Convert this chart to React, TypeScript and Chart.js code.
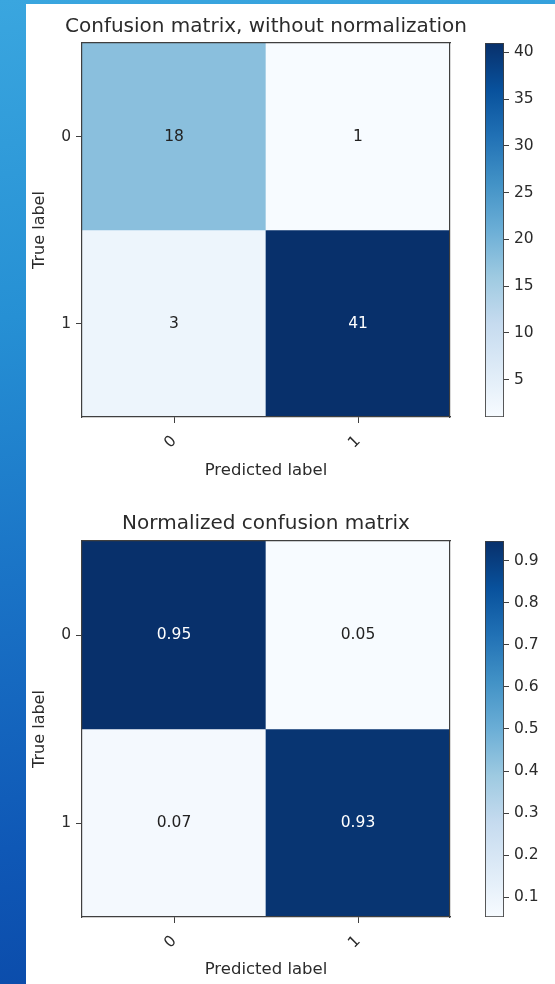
import React, { useEffect, useRef } from 'react';
import { Chart, registerables } from 'chart.js';

Chart.register(...registerables);

// ---------------- data ----------------
const classLabels = ['0', '1'];
const countRow0 = [18, 1];
const countRow1 = [3, 41];
const countMatrix = [countRow0, countRow1];
const countTicks = [5, 10, 15, 20, 25, 30, 35, 40];
const normTicks = [0.1, 0.2, 0.3, 0.4, 0.5, 0.6, 0.7, 0.8, 0.9];
const chartTitles = ['Confusion matrix, without normalization', 'Normalized confusion matrix'];
const xAxisTitle = 'Predicted label';
const yAxisTitle = 'True label';

// normalized matrix: each row divided by its row total
const normMatrix = countMatrix.map((row) => {
  const s = row.reduce((a, b) => a + b, 0);
  return row.map((v) => v / s);
});

// ---------------- style ----------------
const FONT = '"DejaVu Sans", "Noto Sans", sans-serif';
const TEXT = '#2b2b2b';
const AXIS = '#3f3f3f';
const BLUES = ['#f7fbff', '#deebf7', '#c6dbef', '#9ecae1', '#6baed6', '#4292c6', '#2171b5', '#08519c', '#08306b'];
const TITLE_SIZE = 20;
const TITLE_LH = TITLE_SIZE * 1.2;

function hexToRgb(h: string) {
  const n = parseInt(h.slice(1), 16);
  return [(n >> 16) & 255, (n >> 8) & 255, n & 255];
}
function blues(t: number) {
  const tt = Math.max(0, Math.min(1, t));
  const s = tt * 8;
  const i = Math.min(7, Math.floor(s));
  const f = s - i;
  const a = hexToRgb(BLUES[i]);
  const b = hexToRgb(BLUES[i + 1]);
  const c = a.map((v, k) => Math.round(v + (b[k] - v) * f));
  return `rgb(${c[0]},${c[1]},${c[2]})`;
}

type Geo = {
  top: number;
  height: number;
  areaTop: number;
  areaBottom: number;
  titlePadTop: number;
  xTitlePadBottom: number;
};

const MAT_W = 480;
const AREA_LEFT = 56;
const AREA_RIGHT = 424;
const CB_W = 79;

function MatrixChart({ values, fmt, title, geo }: { values: number[][]; fmt: (v: number) => string; title: string; geo: Geo }) {
  const ref = useRef<HTMLCanvasElement | null>(null);
  useEffect(() => {
    if (!ref.current) return;
    const flat = values.flat();
    const vmin = Math.min(...flat);
    const vmax = Math.max(...flat);
    const thresh = vmax / 2;
    const datasets = values.map((row, r) => ({
      data: row.map(() => [r, r + 1]),
      backgroundColor: row.map((v) => blues((v - vmin) / (vmax - vmin))),
      borderWidth: 0,
      barPercentage: 1,
      categoryPercentage: 1,
      grouped: false,
    }));
    const cellLabels = {
      id: 'cellLabels',
      afterDatasetsDraw(chart: any) {
        const { ctx } = chart;
        const x = chart.scales.x;
        const y = chart.scales.y;
        ctx.save();
        ctx.font = `15.5px ${FONT}`;
        ctx.textAlign = 'center';
        ctx.textBaseline = 'middle';
        values.forEach((row, r) =>
          row.forEach((v, c) => {
            ctx.fillStyle = v > thresh ? '#ffffff' : '#222222';
            ctx.fillText(fmt(v), x.getPixelForValue(c), y.getPixelForValue(r + 0.5));
          })
        );
        ctx.restore();
      },
    };
    const chart = new Chart(ref.current, {
      type: 'bar',
      data: { labels: classLabels, datasets: datasets as any },
      options: {
        animation: false,
        responsive: false,
        events: [],
        layout: { padding: 0 },
        plugins: {
          legend: { display: false },
          tooltip: { enabled: false },
          title: {
            display: true,
            text: title,
            fullSize: true,
            color: TEXT,
            font: { family: FONT, size: TITLE_SIZE, weight: 'normal' as any, lineHeight: 1.2 },
            padding: { top: geo.titlePadTop, bottom: geo.areaTop - geo.titlePadTop - TITLE_LH },
          },
        },
        scales: {
          x: {
            type: 'category',
            position: 'bottom',
            offset: true,
            grid: { display: true, drawOnChartArea: false, drawTicks: true, tickLength: 6, offset: false, color: AXIS, lineWidth: 1 },
            border: { display: true, color: AXIS, width: 1.2, z: 1 },
            ticks: { font: { family: FONT, size: 15.5 }, color: TEXT, minRotation: 45, maxRotation: 45, autoSkip: false, padding: 9 },
            title: { display: true, text: xAxisTitle, color: TEXT, font: { family: FONT, size: 16.5, lineHeight: 1.2 }, padding: { top: 0, bottom: geo.xTitlePadBottom } },
            afterFit: (s: any) => {
              s.height = geo.height - geo.areaBottom;
            },
          },
          y: {
            type: 'linear',
            position: 'left',
            min: 0,
            max: classLabels.length,
            reverse: true,
            afterBuildTicks: (s: any) => {
              s.ticks = classLabels.map((_, i) => ({ value: i + 0.5 }));
            },
            grid: { display: true, drawOnChartArea: false, drawTicks: true, tickLength: 6, color: AXIS, lineWidth: 1 },
            border: { display: true, color: AXIS, width: 1.2, z: 1 },
            ticks: { callback: (_v: any, i: number) => classLabels[i], font: { family: FONT, size: 15.5 }, color: TEXT, padding: 5 },
            title: { display: true, text: yAxisTitle, color: TEXT, font: { family: FONT, size: 16, lineHeight: 1.2 }, padding: { top: 4.4, bottom: 0 } },
            afterFit: (s: any) => {
              s.width = AREA_LEFT;
            },
          },
          xTop: {
            type: 'linear',
            position: 'top',
            min: 0,
            max: 1,
            ticks: { display: false },
            grid: { display: false, drawTicks: false },
            border: { display: true, color: AXIS, width: 1.2, z: 1 },
            afterFit: (s: any) => {
              s.height = 0;
            },
          },
          yRight: {
            type: 'linear',
            position: 'right',
            min: 0,
            max: 1,
            ticks: { display: false },
            grid: { display: false, drawTicks: false },
            border: { display: true, color: AXIS, width: 1.2, z: 1 },
            afterFit: (s: any) => {
              s.width = MAT_W - AREA_RIGHT;
            },
          },
        } as any,
      },
      plugins: [cellLabels],
    });
    return () => chart.destroy();
  }, []);
  return <canvas ref={ref} width={MAT_W} height={geo.height} style={{ position: 'absolute', left: 26, top: geo.top }} />;
}

function ColorBar({ values, ticks, geo }: { values: number[][]; ticks: number[]; geo: Geo }) {
  const ref = useRef<HTMLCanvasElement | null>(null);
  useEffect(() => {
    if (!ref.current) return;
    const flat = values.flat();
    const vmin = Math.min(...flat);
    const vmax = Math.max(...flat);
    const chart = new Chart(ref.current, {
      type: 'bar',
      data: {
        labels: [''],
        datasets: [
          {
            data: [[vmin, vmax]] as any,
            backgroundColor: (ctx: any) => {
              const ch = ctx.chart;
              const area = ch.chartArea;
              if (!area) return BLUES[4];
              const g = ch.ctx.createLinearGradient(0, area.bottom, 0, area.top);
              BLUES.forEach((c, i) => g.addColorStop(i / (BLUES.length - 1), c));
              return g;
            },
            borderColor: AXIS,
            borderWidth: 1.2,
            borderSkipped: false,
            barPercentage: 1,
            categoryPercentage: 1,
          },
        ],
      },
      options: {
        animation: false,
        responsive: false,
        events: [],
        layout: { padding: { left: 9, right: 0, top: geo.areaTop, bottom: geo.height - geo.areaBottom } },
        plugins: { legend: { display: false }, tooltip: { enabled: false }, title: { display: false } },
        scales: {
          x: { display: false },
          y: {
            type: 'linear',
            position: 'right',
            min: vmin,
            max: vmax,
            afterBuildTicks: (s: any) => {
              s.ticks = ticks.map((v) => ({ value: v }));
            },
            ticks: { callback: (v: any) => String(v), font: { family: FONT, size: 15.5 }, color: TEXT, padding: 5 },
            grid: { display: true, drawOnChartArea: false, drawTicks: true, tickLength: 5, color: AXIS, lineWidth: 1 },
            border: { display: false },
            afterFit: (s: any) => {
              s.width = CB_W - 28;
            },
          },
        } as any,
      },
    });
    return () => chart.destroy();
  }, []);
  return <canvas ref={ref} width={CB_W} height={geo.height} style={{ position: 'absolute', left: 476, top: geo.top }} />;
}

const geoTop: Geo = { top: 4, height: 488, areaTop: 39, areaBottom: 413, titlePadTop: 10.5, xTitlePadBottom: 11.6 };
const geoBottom: Geo = { top: 492, height: 492, areaTop: 49, areaBottom: 425, titlePadTop: 20, xTitlePadBottom: 4.2 };

export default function App() {
  return (
    <div
      style={{
        position: 'absolute',
        left: 0,
        top: 0,
        width: 555,
        height: 984,
        overflow: 'hidden',
        background: 'linear-gradient(172deg, #3aa6df 0%, #2690d4 30%, #1a73c6 55%, #0f58b6 80%, #0a47a6 100%)',
      }}
    >
      <div style={{ position: 'absolute', left: 26, top: 4, width: 529, height: 980, background: '#ffffff' }} />
      <MatrixChart values={countMatrix} fmt={(v) => String(v)} title={chartTitles[0]} geo={geoTop} />
      <MatrixChart values={normMatrix} fmt={(v) => v.toFixed(2)} title={chartTitles[1]} geo={geoBottom} />
      <ColorBar values={countMatrix} ticks={countTicks} geo={geoTop} />
      <ColorBar values={normMatrix} ticks={normTicks} geo={geoBottom} />
    </div>
  );
}
